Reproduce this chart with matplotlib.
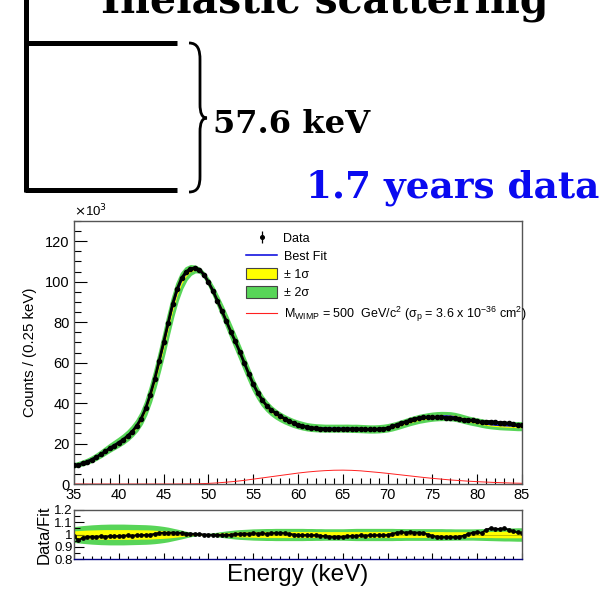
import numpy as np
import matplotlib
matplotlib.use("Agg")
import matplotlib.pyplot as plt
from matplotlib.path import Path
from matplotlib.patches import PathPatch, Patch
from matplotlib.lines import Line2D
from matplotlib.ticker import MultipleLocator

plt.rcParams['font.family'] = ['Liberation Sans', 'DejaVu Sans']

# energy grid of the spectrum (keV, 0.5 keV steps)
energy = np.arange(35.0, 85.01, 0.5)

# best fit, counts / (0.25 keV) in units of 10^3
fit = [9.3, 9.8, 10.5, 11.3, 12.3, 13.5, 14.9, 16.4, 17.9, 19.3,
       20.7, 22.2, 24.0, 26.2, 28.9, 32.5, 37.5, 44.0, 51.5, 60.0,
       69.0, 78.5, 87.5, 95.0, 100.5, 104.0, 105.8, 106.3, 105.7, 103.5,
       100.0, 95.8, 91.0, 86.0, 80.8, 75.5, 70.3, 65.0, 59.5, 54.2,
       49.0, 44.8, 41.2, 38.5, 36.3, 34.6, 33.2, 32.0, 31.0, 30.1,
       29.4, 28.8, 28.3, 28.0, 27.8, 27.7, 27.6, 27.6, 27.6, 27.6,
       27.6, 27.6, 27.5, 27.5, 27.4, 27.3, 27.2, 27.2, 27.3, 27.5,
       27.8, 28.3, 28.9, 29.6, 30.3, 31.0, 31.6, 32.2, 32.6, 33.0,
       33.3, 33.5, 33.6, 33.6, 33.5, 33.2, 32.7, 32.1, 31.5, 31.0,
       30.6, 30.1, 29.7, 29.4, 29.2, 29.0, 28.9, 28.8, 28.7, 28.6,
       28.6]

# data / fit
ratio = [0.985, 0.952, 0.975, 0.980, 0.982, 0.980, 0.985, 0.982, 0.986, 0.984,
         0.988, 0.990, 0.992, 0.990, 0.994, 0.995, 0.996, 0.998, 1.005, 1.012,
         1.014, 1.012, 1.016, 1.013, 1.012, 1.008, 1.006, 1.005, 1.003, 1.000,
         0.998, 0.997, 0.996, 0.995, 0.997, 0.998, 1.004, 1.006, 1.008, 1.006,
         1.010, 1.008, 1.010, 1.006, 1.010, 1.012, 1.014, 1.010, 1.006, 1.000,
         0.996, 0.994, 0.996, 0.993, 0.995, 0.990, 0.986, 0.982, 0.980, 0.983,
         0.980, 0.984, 0.988, 0.990, 0.992, 0.990, 0.994, 0.992, 0.995, 0.993,
         0.996, 1.005, 1.015, 1.018, 1.016, 1.018, 1.015, 1.016, 1.012, 1.000,
         0.988, 0.982, 0.980, 0.978, 0.980, 0.978, 0.982, 0.990, 1.005, 1.015,
         1.020, 1.012, 1.040, 1.050, 1.047, 1.045, 1.050, 1.040, 1.025, 1.018,
         1.014]

# relative half widths of the 2 sigma and 1 sigma bands
sig2 = [0.065, 0.069, 0.073, 0.076, 0.079, 0.081, 0.083, 0.084, 0.085, 0.085,
        0.085, 0.085, 0.084, 0.083, 0.082, 0.081, 0.080, 0.078, 0.075, 0.071,
        0.066, 0.060, 0.052, 0.044, 0.036, 0.027, 0.019, 0.012, 0.007, 0.006,
        0.009, 0.014, 0.019, 0.024, 0.029, 0.033, 0.037, 0.040, 0.042, 0.044,
        0.046, 0.047, 0.048, 0.049, 0.049, 0.050, 0.050, 0.050, 0.050, 0.050,
        0.050, 0.050, 0.049, 0.049, 0.048, 0.048, 0.047, 0.047, 0.047, 0.047,
        0.047, 0.048, 0.049, 0.050, 0.050, 0.050, 0.050, 0.050, 0.050, 0.050,
        0.050, 0.050, 0.049, 0.049, 0.048, 0.048, 0.048, 0.048, 0.048, 0.048,
        0.048, 0.048, 0.048, 0.047, 0.047, 0.046, 0.046, 0.046, 0.046, 0.046,
        0.047, 0.048, 0.049, 0.050, 0.051, 0.052, 0.053, 0.053, 0.054, 0.055,
        0.055]
sig1 = [0.030, 0.032, 0.034, 0.036, 0.037, 0.038, 0.039, 0.040, 0.040, 0.040,
        0.040, 0.040, 0.040, 0.039, 0.039, 0.038, 0.038, 0.037, 0.035, 0.033,
        0.031, 0.028, 0.025, 0.021, 0.017, 0.013, 0.009, 0.006, 0.004, 0.003,
        0.005, 0.007, 0.010, 0.012, 0.014, 0.016, 0.018, 0.020, 0.021, 0.022,
        0.023, 0.024, 0.024, 0.025, 0.025, 0.025, 0.025, 0.025, 0.025, 0.025,
        0.025, 0.025, 0.025, 0.025, 0.024, 0.024, 0.024, 0.024, 0.024, 0.024,
        0.024, 0.024, 0.025, 0.025, 0.025, 0.025, 0.025, 0.025, 0.025, 0.025,
        0.025, 0.025, 0.025, 0.025, 0.024, 0.024, 0.024, 0.024, 0.024, 0.024,
        0.024, 0.024, 0.024, 0.023, 0.023, 0.023, 0.023, 0.023, 0.023, 0.023,
        0.024, 0.024, 0.025, 0.025, 0.026, 0.026, 0.027, 0.027, 0.027, 0.027,
        0.027]

# WIMP signal, M = 500 GeV/c^2 (1 keV steps)
wimp_e = np.arange(35, 86, 1)
wimp = [0.0, 0.0, 0.0, 0.0, 0.0, 0.0, 0.0, 0.0, 0.0, 0.0,
        0.0, 0.0, 0.03, 0.07, 0.15, 0.3, 0.55, 0.9, 1.3, 1.8,
        2.4, 3.0, 3.6, 4.2, 4.8, 5.4, 5.9, 6.3, 6.6, 6.8,
        6.85, 6.75, 6.5, 6.1, 5.7, 5.25, 4.75, 4.25, 3.75, 3.25,
        2.8, 2.4, 2.0, 1.7, 1.4, 1.15, 0.95, 0.75, 0.6, 0.45,
        0.35]

fit = np.array(fit)
ratio = np.array(ratio)
sig1 = np.array(sig1)
sig2 = np.array(sig2)
data = fit * ratio
derr = np.sqrt(data * 1e3) / 1e3

GREEN = '#58d558'
YELLOW = '#ffff00'
FRAME = '#555555'

W, H = 614, 591
fig = plt.figure(figsize=(W / 100, H / 100), dpi=100)

def frac(left, top, right, bottom):
    return [left / W, 1 - bottom / H, (right - left) / W, (bottom - top) / H]

# ---- slide decoration (pixel coordinates) ----
deco = fig.add_axes([0, 0, 1, 1], zorder=0)
deco.set_xlim(0, W)
deco.set_ylim(H, 0)
deco.axis('off')
deco.patch.set_alpha(0)

lw_bar = 3.6
deco.plot([26, 26], [-5, 192], color='black', lw=lw_bar, solid_capstyle='butt')
deco.plot([24.5, 177], [43, 43], color='black', lw=lw_bar, solid_capstyle='butt')
deco.plot([24.5, 177], [190, 190], color='black', lw=lw_bar, solid_capstyle='butt')

verts = [(189, 43), (198, 43), (200, 50), (200, 60),
         (200, 104),
         (200, 113), (202, 118), (207, 118),
         (202, 118), (200, 123), (200, 132),
         (200, 176),
         (200, 186), (198, 192), (189, 192)]
codes = [Path.MOVETO, Path.CURVE4, Path.CURVE4, Path.CURVE4,
         Path.LINETO,
         Path.CURVE4, Path.CURVE4, Path.CURVE4,
         Path.CURVE4, Path.CURVE4, Path.CURVE4,
         Path.LINETO,
         Path.CURVE4, Path.CURVE4, Path.CURVE4]
deco.add_patch(PathPatch(Path(verts, codes), fill=False, lw=2.0, ec='black'))

def fit_text(x, y, s, width, **kw):
    t = deco.text(x, y, s, **kw)
    fig.canvas.draw()
    w = t.get_window_extent().width
    t.set_fontsize(t.get_fontsize() * width / w)
    return t

serif = dict(family='DejaVu Serif', fontweight='bold', ha='left', va='baseline', fontsize=30)
fit_text(101, 12, 'Inelastic scattering', 448, **serif)
fit_text(213, 133, '57.6 keV', 157, **serif)
fit_text(306, 197, '1.7 years data', 293, color='#0a0af0', **serif)

# ---- main spectrum ----
ax = fig.add_axes(frac(74, 221, 522, 484), zorder=2)
ax.fill_between(energy, fit * (1 - sig2), fit * (1 + sig2), color=GREEN, lw=2.0, ec=GREEN)
ax.fill_between(energy, fit * (1 - sig1), fit * (1 + sig1), color=YELLOW, lw=0)
ax.plot(energy, fit, color='#0000dd', lw=1.2)
ax.plot(wimp_e, wimp, color='#ff2020', lw=0.7)
ax.plot(energy, data, color='black', lw=2.0, zorder=4)
ax.errorbar(energy, data, yerr=derr, fmt='o', color='black', ms=3.0, elinewidth=0.8,
            capsize=0, zorder=5)

ax.set_xlim(35, 85)
ax.set_ylim(0, 130)
ax.xaxis.set_major_locator(MultipleLocator(5))
ax.xaxis.set_minor_locator(MultipleLocator(1))
ax.yaxis.set_major_locator(MultipleLocator(20))
ax.yaxis.set_minor_locator(MultipleLocator(5))
ax.tick_params(axis='both', which='both', direction='in', color='black', width=0.8,
               labelsize=10.5, top=False, right=False)
ax.tick_params(axis='y', which='major', length=9, pad=3)
ax.tick_params(axis='y', which='minor', length=5)
ax.tick_params(axis='x', which='major', length=7, pad=3)
ax.tick_params(axis='x', which='minor', length=4)
for s in ax.spines.values():
    s.set_color(FRAME)
    s.set_linewidth(1.0)
ax.set_ylabel('Counts / (0.25 keV)', fontsize=10.8, labelpad=6)
ax.text(0.0, 1.005, r'$\times$10$^{3}$', transform=ax.transAxes, fontsize=9.5,
        ha='left', va='bottom')

handles = [
    ax.errorbar([], [], yerr=[], fmt='o', color='black', ms=2.6, elinewidth=0.9),
    Line2D([], [], color='#0000dd', lw=1.1),
    Patch(fc=YELLOW, ec='#444444', lw=0.8),
    Patch(fc=GREEN, ec='#444444', lw=0.8),
    Line2D([], [], color='#ff2020', lw=0.8),
]
labels = ['Data', 'Best Fit', '\u00b1 1\u03c3', '\u00b1 2\u03c3',
          'M$_{\\mathregular{WIMP}}$ = 500  GeV/c$^{\\mathregular{2}}$ '
          '(\u03c3$_{\\mathregular{p}}$ = 3.6 x 10$^{\\mathregular{-36}}$ cm$^{\\mathregular{2}}$)']
ax.legend(handles, labels, loc='upper left', bbox_to_anchor=(246 / W, 1 - 232 / H),
          bbox_transform=fig.transFigure, frameon=False, fontsize=9,
          handlelength=2.5, handleheight=1.0, handletextpad=0.5, labelspacing=0.42,
          borderpad=0, borderaxespad=0)

# ---- ratio panel ----
rx = fig.add_axes(frac(74, 510, 522, 559), zorder=2)
rx.fill_between(energy, 1 - sig2, 1 + sig2, color=GREEN, lw=0)
rx.fill_between(energy, 1 - sig1, 1 + sig1, color=YELLOW, lw=0)
rx.axhline(1.0, color='#aaaa00', lw=0.5)
rx.plot(energy, ratio, color='black', lw=1.4)
rx.errorbar(energy, ratio, yerr=derr / fit, fmt='o', color='black', ms=2.4,
            elinewidth=0.8, capsize=0)
rx.set_xlim(35, 85)
rx.set_ylim(0.8, 1.2)
rx.xaxis.set_major_locator(MultipleLocator(5))
rx.xaxis.set_minor_locator(MultipleLocator(1))
rx.yaxis.set_minor_locator(MultipleLocator(0.05))
rx.set_yticks([0.8, 0.9, 1.0, 1.1, 1.2])
rx.set_yticklabels(['0.8', '0.9', '1', '1.1', '1.2'])
rx.tick_params(axis='both', which='both', direction='in', color='black', width=0.8,
               labelsize=9.5, top=False, right=False)
rx.tick_params(axis='x', which='major', length=4, labelbottom=False)
rx.tick_params(axis='x', which='minor', length=2)
rx.tick_params(axis='y', which='major', length=7, pad=1)
rx.tick_params(axis='y', which='minor', length=4)
for s in rx.spines.values():
    s.set_color(FRAME)
    s.set_linewidth(1.0)
rx.spines['bottom'].set_color('#000080')
rx.set_ylabel('Data/Fit', fontsize=12, labelpad=2)
rx.set_xlabel('Energy (keV)', fontsize=17.5, labelpad=0)

fig.savefig('out.png', dpi=100)
